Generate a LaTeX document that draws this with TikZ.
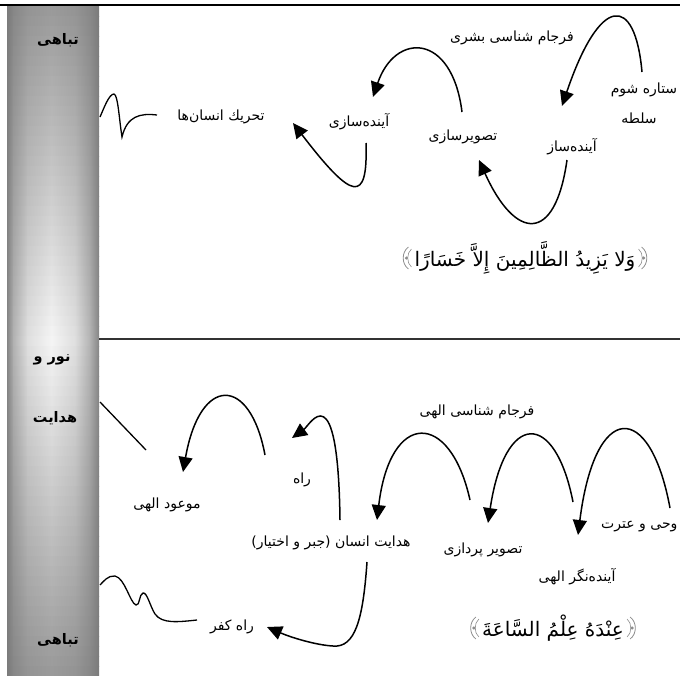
\documentclass[tikz,border=0pt]{standalone}
\usepackage{fontspec}
\usepackage{xcolor}
\usetikzlibrary{arrows.meta}
\newfontfamily\fafont[Script=Arabic]{DejaVu Sans}
\TeXXeTstate=1
\newcommand{\rtltxt}[1]{\beginR#1\endR}

\begin{document}
\begin{tikzpicture}[
  x=1pt, y=-1pt,
  >=Triangle,
  lbl/.style    = {font=\fafont\fontsize{14}{16}\selectfont, inner sep=0pt},
  barlbl/.style = {font=\fafont\bfseries\fontsize{14.5}{16}\selectfont, inner sep=0pt},
  ayah/.style   = {font=\fafont\fontsize{20}{24}\selectfont, inner sep=0pt},
  conn/.style   = {line width=1.5pt, -{Triangle[length=15pt, width=14pt]}},
  plainln/.style= {line width=1.3pt},
  ornbr/.pic    = {
    \draw[black!45, line width=0.8pt] (3,-11) .. controls (-4,-6) and (-4,6) .. (3,11);
    \draw[black!45, line width=0.6pt] (6,-9) .. controls (1,-5) and (1,5) .. (6,9);
    \fill[black!45] (1,0) circle (1.7pt);
  }
]
\useasboundingbox (0,0) rectangle (680,675);
\clip (0,0) rectangle (680,675);

% side bar
\foreach \i in {0,...,66}{
  \pgfmathsetmacro{\ya}{6+10*\i}
  \pgfmathsetmacro{\yb}{\ya+10.6}
  \pgfmathsetmacro{\dd}{abs(\ya+5-340)/335}
  \pgfmathsetmacro{\mm}{4+36*\dd}
  \pgfmathsetmacro{\ee}{48+4*\dd}
  \pgfmathsetmacro{\qa}{\mm+(\ee-\mm)*0.6}
  \pgfmathsetmacro{\qb}{\mm+(\ee-\mm)*0.2}
  \shade[left color=black!\ee, right color=black!\qa] (7,\ya) rectangle (13.6,\yb);
  \shade[left color=black!\qa, right color=black!\qb] (13,\ya) rectangle (27.6,\yb);
  \shade[left color=black!\qb, right color=black!\qb, middle color=black!\mm] (27,\ya) rectangle (75.6,\yb);
  \shade[left color=black!\qb, right color=black!\qa] (75,\ya) rectangle (90.6,\yb);
  \shade[left color=black!\qa, right color=black!\ee] (90,\ya) rectangle (99,\yb);
}
\draw[line width=2pt] (0,5) -- (680,5);
\draw[line width=1.5pt, black!80] (99,339) -- (680,339);

\node[barlbl] (tabahiTop) at (58,40) {\rtltxt{تباهی}};
\node[barlbl] (noorLbl) at (52,360) {\rtltxt{نور و}};
\node[barlbl] (hedayatLbl) at (55,418) {\rtltxt{هدایت}};
\node[barlbl] (tabahiLow) at (58,640) {\rtltxt{تباهی}};

% upper half
\node[lbl] (farjamBashari) at (512,38) {\rtltxt{فرجام شناسی بشری}};
\node[lbl] (setareh) at (644,90) {\rtltxt{ستاره شوم}};
\node[lbl] (soltah) at (639,118) {\rtltxt{سلطه}};
\node[lbl] (ayandeSaz) at (572,147) {\rtltxt{آینده^^^^200cساز}};
\node[lbl] (tasvirSazi) at (463,137) {\rtltxt{تصویرسازی}};
\node[lbl] (ayandeSazi) at (359,122) {\rtltxt{آینده^^^^200cسازی}};
\node[lbl] (tahrik) at (221,117) {\rtltxt{تحریك انسان^^^^200cها}};
\node[ayah] (ayahTop) at (525,258) {\rtltxt{وَلا يَزِيدُ الظَّالِمِينَ إِلاَّ خَسَارًا}};
\pic at ([xshift=-9pt]ayahTop.west) {ornbr};
\pic[xscale=-1] at ([xshift=9pt]ayahTop.east) {ornbr};

\coordinate (starStart) at (642,72);
\coordinate (starTip) at (562,106);
\draw[conn] (starStart) .. controls (635,-6) and (600,-6) .. (starTip);
\coordinate (imageStart) at (462,112);
\coordinate (imageTip) at (373,97);
\draw[conn] (imageStart) .. controls (452,32) and (395,32) .. (imageTip);
\coordinate (futureStart) at (567,160);
\coordinate (futureTip) at (479,160);
\draw[conn] (futureStart) .. controls (555,245) and (515,240) .. (futureTip);
\coordinate (pastStart) at (366,143);
\coordinate (pastTip) at (293,123);
\draw[conn] (pastStart) .. controls (368,205) and (352,200) .. (pastTip);
\coordinate (moveEnd) at (157,115);
\coordinate (barTop) at (100,117);
\draw[plainln] (moveEnd) .. controls (140,113) and (127,116) .. (122,137)
  .. controls (119,118) and (118,95) .. (114,94) .. controls (109,94) and (104,108) .. (barTop);

% lower half
\node[lbl] (mowud) at (167,505) {\rtltxt{موعود الهی}};
\node[lbl] (rahLbl) at (302,480) {\rtltxt{راه}};
\node[lbl] (hedayatEnsan) at (331,543) {\rtltxt{هدایت انسان (جبر و اختیار)}};
\node[lbl] (farjamElahi) at (477,412) {\rtltxt{فرجام شناسی الهی}};
\node[lbl] (tasvirPardazi) at (483,550) {\rtltxt{تصویر پردازی}};
\node[lbl, anchor=west] (vahy) at (601,527) {\rtltxt{وحی و عترت}};
\node[lbl] (ayandeNegar) at (577,577) {\rtltxt{آینده^^^^200cنگر الهی}};
\node[lbl] (rahKofr) at (232,627) {\rtltxt{راه کفر}};
\node[ayah] (ayahLow) at (553,628) {\rtltxt{عِنْدَهُ عِلْمُ السَّاعَةَ}};
\pic at ([xshift=-9pt]ayahLow.west) {ornbr};
\pic[xscale=-1] at ([xshift=9pt]ayahLow.east) {ornbr};

\coordinate (barMid) at (100,402);
\coordinate (promLine) at (146,450);
\draw[plainln] (barMid) -- (promLine);
\coordinate (wayStart) at (265,455);
\coordinate (wayTip) at (183,472);
\draw[conn] (wayStart) .. controls (250,375) and (200,375) .. (wayTip);
\coordinate (guideStart) at (340,520);
\coordinate (guideTip) at (292,438);
\draw[conn] (guideStart) .. controls (338,370) and (310,425) .. (guideTip);
\coordinate (fateStart) at (470,500);
\coordinate (fateTip) at (377,520);
\draw[conn] (fateStart) .. controls (450,410) and (390,410) .. (fateTip);
\coordinate (picStart) at (573,502);
\coordinate (picTip) at (488,523);
\draw[conn] (picStart) .. controls (555,410) and (505,410) .. (picTip);
\coordinate (revStart) at (670,508);
\coordinate (revTip) at (578,535);
\draw[conn] (revStart) .. controls (650,400) and (595,400) .. (revTip);
\coordinate (kofrStart) at (367,562);
\coordinate (kofrTip) at (267,627);
\draw[conn] (kofrStart) .. controls (363,620) and (355,648) .. (333,646)
  .. controls (315,645) and (290,637) .. (kofrTip);
\coordinate (kofrEnd) at (197,620);
\coordinate (barLow) at (100,585);
\draw[plainln] (kofrEnd) .. controls (178,622) and (162,624) .. (155,614)
  .. controls (150,606) and (147,592) .. (143,593) .. controls (139,594) and (140,606) .. (136,605)
  .. controls (130,603) and (125,578) .. (115,576) .. controls (108,575) and (103,582) .. (barLow);
\end{tikzpicture}
\end{document}
